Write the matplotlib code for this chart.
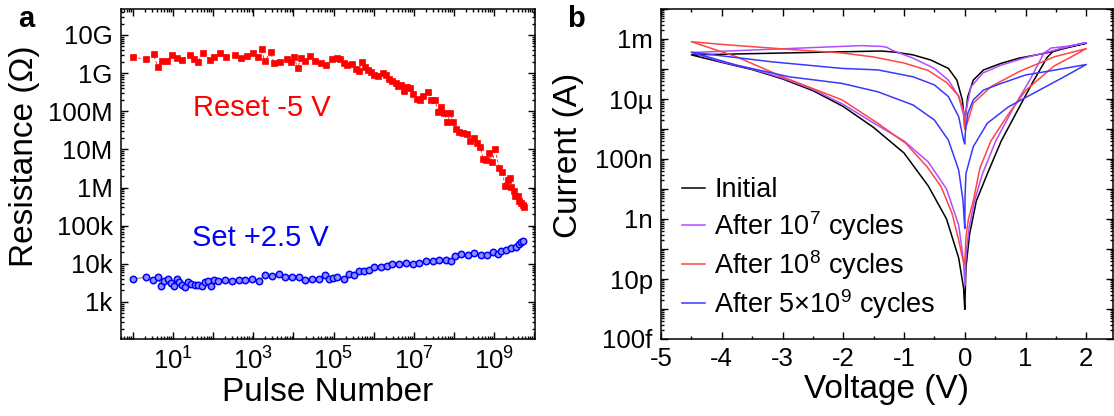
import numpy as np
import matplotlib
matplotlib.use("Agg")
import matplotlib.pyplot as plt
from matplotlib.ticker import FixedLocator, FuncFormatter, LogLocator, MultipleLocator

plt.rcParams['font.family'] = ['Liberation Sans', 'DejaVu Sans']
plt.rcParams['mathtext.fontset'] = 'custom'
plt.rcParams['mathtext.rm'] = 'Liberation Sans'
plt.rcParams['mathtext.it'] = 'Liberation Sans:italic'
plt.rcParams['mathtext.default'] = 'regular'
plt.rcParams['axes.unicode_minus'] = False

# ---- panel a: endurance (log10 pulse number, log10 resistance) ----
reset_logn = [0.0, 0.33, 0.51, 0.61, 0.71, 0.84, 0.98, 1.09, 1.22, 1.41,
              1.51, 1.61, 1.74, 1.93, 2.01, 2.16, 2.33, 2.55, 2.69, 2.83,
              2.99, 3.11, 3.21, 3.28, 3.43, 3.51, 3.66, 3.84, 3.94, 4.01,
              4.11, 4.18, 4.30, 4.41, 4.53, 4.68, 4.80, 4.97, 5.08, 5.16,
              5.26, 5.34, 5.47, 5.55, 5.63, 5.70, 5.78, 5.86, 5.94, 6.01,
              6.11, 6.23, 6.31, 6.38, 6.47, 6.55, 6.61, 6.69, 6.76, 6.84,
              6.91, 6.99, 7.08, 7.16, 7.24, 7.36, 7.44, 7.53, 7.61, 7.68,
              7.76, 7.84, 7.91, 7.99, 8.06, 8.14, 8.24, 8.33, 8.41, 8.51,
              8.59, 8.66, 8.73, 8.81, 8.88, 8.96, 9.03, 9.13, 9.21, 9.28,
              9.34, 9.39, 9.42, 9.49, 9.53, 9.59, 9.63, 9.68, 9.72, 9.74]
reset_logr = [9.42, 9.36, 9.49, 9.17, 9.33, 9.33, 9.48, 9.39, 9.35, 9.47,
              9.36, 9.29, 9.52, 9.35, 9.43, 9.52, 9.42, 9.48, 9.39, 9.45,
              9.52, 9.43, 9.63, 9.31, 9.55, 9.27, 9.29, 9.38, 9.29, 9.42,
              9.13, 9.40, 9.33, 9.45, 9.33, 9.27, 9.21, 9.36, 9.40, 9.36,
              9.26, 9.21, 9.24, 9.12, 9.05, 9.28, 9.17, 9.08, 9.04, 8.94,
              8.93, 9.00, 8.95, 8.84, 8.80, 8.75, 8.66, 8.68, 8.52, 8.63,
              8.60, 8.44, 8.31, 8.30, 8.40, 8.51, 8.30, 8.30, 7.97, 8.12,
              7.95, 7.72, 7.95, 7.72, 7.53, 7.46, 7.44, 7.40, 7.21, 7.30,
              7.16, 7.06, 6.76, 6.72, 6.91, 6.67, 7.00, 6.51, 6.41, 6.04,
              6.20, 6.25, 6.02, 5.92, 5.78, 5.78, 5.66, 5.60, 5.54, 5.48]

set_logn = [0.0, 0.32, 0.50, 0.62, 0.70, 0.78, 0.88, 0.95, 1.03, 1.09,
            1.15, 1.22, 1.30, 1.37, 1.45, 1.55, 1.63, 1.72, 1.80, 1.88,
            1.95, 2.02, 2.13, 2.30, 2.47, 2.63, 2.80, 2.97, 3.13, 3.28,
            3.47, 3.65, 3.80, 3.97, 4.13, 4.30, 4.47, 4.63, 4.78, 4.88,
            4.98, 5.09, 5.26, 5.38, 5.51, 5.63, 5.76, 5.88, 6.01, 6.18,
            6.34, 6.47, 6.63, 6.80, 6.97, 7.13, 7.30, 7.47, 7.63, 7.80,
            7.93, 8.03, 8.19, 8.36, 8.51, 8.68, 8.84, 8.99, 9.09, 9.18,
            9.30, 9.43, 9.55, 9.63, 9.68, 9.72]
set_logr = [3.60, 3.65, 3.58, 3.65, 3.42, 3.56, 3.61, 3.51, 3.42, 3.60,
            3.52, 3.44, 3.40, 3.52, 3.47, 3.44, 3.45, 3.42, 3.52, 3.56,
            3.42, 3.58, 3.56, 3.58, 3.54, 3.58, 3.58, 3.60, 3.56, 3.70,
            3.68, 3.73, 3.66, 3.66, 3.65, 3.58, 3.60, 3.61, 3.70, 3.60,
            3.63, 3.66, 3.60, 3.73, 3.70, 3.80, 3.80, 3.84, 3.93, 3.93,
            3.94, 4.00, 4.00, 4.01, 4.00, 4.03, 4.07, 4.08, 4.10, 4.10,
            4.08, 4.21, 4.26, 4.22, 4.28, 4.22, 4.24, 4.31, 4.26, 4.33,
            4.36, 4.41, 4.45, 4.52, 4.57, 4.59]

res_labels = {3: '1k', 4: '10k', 5: '100k', 6: '1M', 7: '10M',
              8: '100M', 9: '1G', 10: '10G'}

# ---- panel b: I-V sweeps (voltage, log10 |current|) ----
# path: 0 -> +2 (HRS, then set) -> 0 (LRS) -> -4.5 -> 0
init_v = [0.0, 0.02, 0.08, 0.19, 0.37, 0.60, 0.89, 1.13, 1.36, 1.45, 1.65, 2.0,
          1.65, 1.36, 0.89, 0.60, 0.31, 0.14, 0.05, 0.01, 0.0,
          -0.01, -0.04, -0.13, -0.27, -0.56, -0.85, -1.14, -1.38, -4.5,
          -4.0, -3.5, -3.0, -2.5, -2.0, -1.5, -1.0, -0.6, -0.3, -0.1, -0.02, 0.0]
init_logi = [-12.0, -10.6, -9.5, -8.4, -7.5, -6.4, -5.3, -4.4, -3.6, -3.42, -3.31, -3.14,
             -3.28, -3.46, -3.64, -3.81, -4.03, -4.37, -4.92, -5.6, -6.0,
             -5.6, -5.03, -4.37, -3.98, -3.70, -3.53, -3.44, -3.40, -3.53,
             -3.78, -4.02, -4.33, -4.72, -5.25, -5.95, -6.8, -7.9, -9.0, -10.3, -11.3, -12.0]

e7_v = [0.0, 0.02, 0.07, 0.16, 0.29, 0.51, 0.80, 1.07, 1.30, 1.42,
        1.7, 2.0, 1.7, 1.4, 1.0, 0.6, 0.3, 0.1, 0.02, 0.0,
        -0.01, -0.10, -0.27, -0.50, -0.85, -1.2, -1.28, -1.35, -1.7, -4.5,
        -4.0, -3.5, -3.0, -2.5, -2.0, -1.5, -1.0, -0.6, -0.3, -0.1, -0.02, 0.0]
e7_logi = [-11.2, -10.2, -9.3, -8.4, -7.5, -6.4, -5.3, -4.37, -3.48, -3.3,
           -3.24, -3.12, -3.26, -3.42, -3.62, -3.87, -4.13, -4.6, -5.4, -5.9,
           -5.6, -4.92, -4.37, -3.98, -3.64, -3.37, -3.28, -3.25, -3.22, -3.45,
           -3.76, -4.0, -4.3, -4.68, -5.18, -5.8, -6.4, -7.1, -8.0, -9.2, -10.4, -11.2]

e8_v = [0.0, 0.02, 0.06, 0.14, 0.25, 0.43, 0.72, 1.01, 1.47, 1.75, 2.0,
        1.48, 0.89, 0.43, 0.14, 0.04, 0.0,
        -0.02, -0.1, -0.3, -0.6, -1.0, -1.5, -2.0, -3.0, -4.0, -4.5,
        -3.76, -3.0, -2.02, -1.43, -0.97, -0.62, -0.39, -0.21, -0.10, -0.03, 0.0]
e8_logi = [-10.5, -9.6, -9.0, -8.4, -7.3, -6.4, -5.5, -4.7, -3.9, -3.6, -3.32,
           -3.59, -4.09, -4.59, -5.14, -5.81, -6.0,
           -5.4, -4.9, -4.45, -4.05, -3.8, -3.6, -3.47, -3.33, -3.18, -3.09,
           -3.59, -4.26, -5.03, -5.81, -6.48, -7.26, -7.92, -8.81, -9.70, -10.37, -10.5]

e9_v = [0.0, 0.005, 0.02, 0.14, 0.37, 0.72, 1.13, 1.59, 2.0,
        1.5, 1.0, 0.6, 0.31, 0.14, 0.05, 0.01, 0.0,
        -0.02, -0.10, -0.27, -0.5, -0.85, -1.43, -2.02, -3.18, -4.5,
        -3.76, -2.89, -2.02, -1.43, -0.85, -0.5, -0.27, -0.10, -0.03, 0.0]
e9_logi = [-9.3, -8.2, -7.48, -6.59, -5.81, -5.26, -4.81, -4.31, -3.85,
           -4.03, -4.2, -4.48, -4.7, -5.03, -5.48, -6.1, -6.5,
           -6.37, -5.59, -4.92, -4.53, -4.26, -4.03, -3.98, -3.76, -3.44,
           -3.87, -4.26, -4.48, -4.76, -5.2, -5.7, -6.37, -7.37, -8.37, -9.3]

iv_labels = ['Initial', 'After 10$^7$ cycles', 'After 10$^8$ cycles',
             'After 5\u00d710$^9$ cycles']
iv_colors = ['black', '#b04dff', '#ff4545', '#3838ff']
cur_labels = {-13: '100f', -11: '10p', -9: '1n', -7: '100n', -5: '10\u00b5', -3: '1m'}

TICK_FS = 18.5
LABEL_FS = 24

fig = plt.figure(figsize=(11.14, 4.16), dpi=100)
ax1 = fig.add_axes([121 / 1114, 77 / 416, 414 / 1114, 330 / 416])
ax2 = fig.add_axes([661 / 1114, 77 / 416, 452 / 1114, 330 / 416])

for ax in (ax1, ax2):
    for sp in ax.spines.values():
        sp.set_linewidth(1.1)
    ax.tick_params(which='both', direction='in', top=True, right=True,
                   labelsize=TICK_FS, width=1.0)
    ax.tick_params(which='major', length=5, pad=6)
    ax.tick_params(which='minor', length=2.5)

# ---- panel a ----
ax1.plot(10 ** np.array(reset_logn), 10 ** np.array(reset_logr), color='#ff3030',
         lw=0.7, ls=(0, (3, 2)), marker='s', ms=4.8, mfc='red', mec='red', mew=0.5)
ax1.plot(10 ** np.array(set_logn), 10 ** np.array(set_logr), color='#8c8c00', lw=0.8,
         marker='o', ms=4.6, mfc='#8f8fff', mec='#0000ff', mew=1.1)
ax1.set_xscale('log')
ax1.set_yscale('log')
ax1.set_xlim(0.5, 1.06e10)
ax1.set_ylim(1.07e2, 4.8e10)
ax1.xaxis.set_major_locator(FixedLocator([10.0 ** k for k in range(0, 11)]))
ax1.xaxis.set_minor_locator(LogLocator(base=10, subs=np.arange(2, 10), numticks=30))
ax1.xaxis.set_major_formatter(FuncFormatter(
    lambda v, p: '$10^{%d}$' % round(np.log10(v)) if round(np.log10(v)) % 2 == 1 else ''))
ax1.yaxis.set_major_locator(FixedLocator([10.0 ** k for k in range(2, 11)]))
ax1.yaxis.set_minor_locator(LogLocator(base=10, subs=np.arange(2, 10), numticks=30))
ax1.yaxis.set_major_formatter(FuncFormatter(
    lambda v, p: res_labels.get(int(round(np.log10(v))), '')))
ax1.xaxis.set_minor_formatter(FuncFormatter(lambda v, p: ''))
ax1.yaxis.set_minor_formatter(FuncFormatter(lambda v, p: ''))
ax1.set_xlabel('Pulse Number', fontsize=LABEL_FS, labelpad=2)
ax1.set_ylabel('Resistance (\u03a9)', fontsize=LABEL_FS)
ax1.yaxis.set_label_coords(-0.195, 0.555)
ax1.text(0.174, 0.70, 'Reset -5 V', color='red', fontsize=21,
         transform=ax1.transAxes, ha='left', va='center')
ax1.text(0.171, 0.306, 'Set +2.5 V', color='#0000ff', fontsize=21,
         transform=ax1.transAxes, ha='left', va='center')

# ---- panel b ----
curves = [(init_v, init_logi), (e7_v, e7_logi), (e8_v, e8_logi), (e9_v, e9_logi)]
for (v, li), lab, col in zip(curves, iv_labels, iv_colors):
    ax2.plot(v, 10 ** np.array(li), color=col, lw=1.1, label=lab)
ax2.set_yscale('log')
ax2.set_xlim(-5, 2.44)
ax2.set_ylim(1e-13, 1e-2)
ax2.xaxis.set_major_locator(MultipleLocator(1))
ax2.xaxis.set_minor_locator(MultipleLocator(0.5))
ax2.yaxis.set_major_locator(FixedLocator([10.0 ** k for k in range(-13, -1)]))
ax2.yaxis.set_minor_locator(LogLocator(base=10, subs=np.arange(2, 10), numticks=30))
ax2.yaxis.set_major_formatter(FuncFormatter(
    lambda v, p: cur_labels.get(int(round(np.log10(v))), '')))
ax2.yaxis.set_minor_formatter(FuncFormatter(lambda v, p: ''))
ax2.set_xlabel('Voltage (V)', fontsize=LABEL_FS, labelpad=2)
ax2.set_ylabel('Current (A)', fontsize=LABEL_FS)
ax2.yaxis.set_label_coords(-0.17, 0.555)
ax2.legend(loc='upper left', bbox_to_anchor=(0.046, 0.49), frameon=False,
           fontsize=19.5, handlelength=0.85, handletextpad=0.35,
           labelspacing=0.2, borderpad=0, borderaxespad=0)

fig.text(18 / 1114, 1 - 27 / 416, 'a', fontsize=21, fontweight='bold')
fig.text(567 / 1114, 1 - 27 / 416, 'b', fontsize=21, fontweight='bold')

fig.savefig('out.png', dpi=100)
